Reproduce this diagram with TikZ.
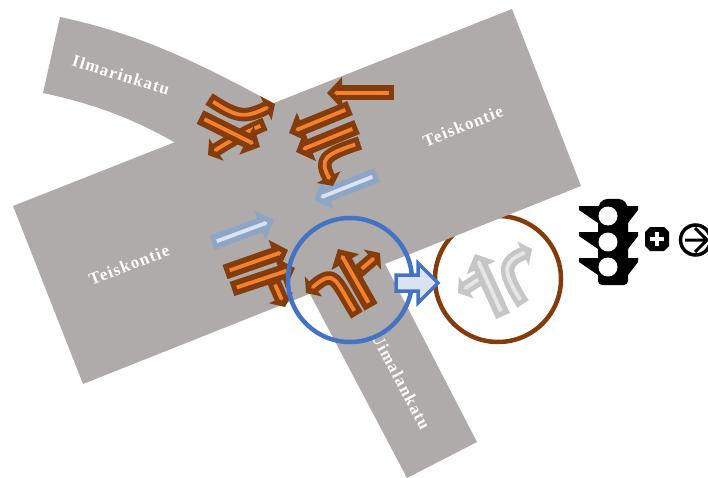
\documentclass[tikz,border=0pt]{standalone}
\usepackage{fontspec}
\setmainfont{Liberation Serif}
\newfontfamily\ruefont[LetterSpace=7]{Liberation Serif}
\usetikzlibrary{arrows.meta}
\definecolor{route}{HTML}{AFABAB}
\definecolor{brun}{HTML}{843C0C}
\definecolor{orange}{HTML}{F5822A}
\definecolor{bleu}{HTML}{4472C4}
\definecolor{bleuclair}{HTML}{DAE3F3}
\definecolor{bleugris}{HTML}{8FA5C6}
\definecolor{grisfonce}{HTML}{C6C6C6}
\definecolor{grisclair}{HTML}{E6E6E6}
\tikzset{
  rue/.style={text=white,font=\ruefont\bfseries\fontsize{17}{17}\selectfont,inner sep=0pt},
  bord/.style={line width=15,line join=round,-{Triangle[length=15,width=31]}},
  petit/.style={line width=13.5,-{Triangle[length=10,width=26]}},
  coeur/.style={line width=3.8,shorten <=5,shorten >=7,-{Triangle[length=3,width=5]}},
}
\newcommand{\fleche}[3]{\draw[bord,#1] #3; \draw[coeur,#2] #3;}
\begin{document}
\begin{tikzpicture}[x=1pt,y=-1pt]
\clip (0,0) rectangle (708,478);

% Cercle brun sous la route
\draw[brun,line width=4.5] (498,279) circle (63);

% Routes
\fill[route] (13,206) -- (512,9) -- (581,186) -- (83,384) -- cycle;
\fill[route] (60,17) .. controls (135,33) and (190,58) .. (273,103) -- (285,125) -- (185,165) -- (174,142)
  .. controls (130,117) and (90,103) .. (43,93) -- cycle;
\fill[route] (310,294) -- (300,270) -- (375,240) -- (385,264) -- (477,442) -- (407,478) -- cycle;

% Noms des rues
\node[rue,rotate=-17] (ilmarinkatu) at (121,75) {Ilmarinkatu};
\node[rue,rotate=22] (teisko1) at (463,126) {Teiskontie};
\node[rue,rotate=21] (teisko2) at (129,265) {Teiskontie};
\node[rue,rotate=-62] (uimalankatu) at (401,381) {Uimalankatu};

% Fleches bleutees
\fleche{bleugris}{bleuclair}{(212,243) -- (274,220)}
\fleche{bleugris}{bleuclair}{(377,175) -- (314,200)}

% Groupe du haut a gauche
\fleche{brun,petit}{orange}{(265,124) .. controls (245,132) and (225,144) .. (208,155)}
\fleche{brun,petit}{orange}{(209,99) .. controls (238,118) and (245,118) .. (275,104)}
\fleche{brun}{orange}{(200,117) -- (260,147)}

% Groupe du haut a droite
\fleche{brun}{orange}{(394,93) -- (327,93)}
\fleche{brun,petit}{orange}{(360,143) .. controls (323,155) and (320,160) .. (333,186)}
\fleche{brun}{orange}{(357,127) -- (296,152)}
\fleche{brun}{orange}{(350,108) -- (289,133)}

% Groupe du bas a gauche
\fleche{brun,petit}{orange}{(273,280) -- (285,307)}
\fleche{brun}{orange}{(232,289) -- (295,268)}
\fleche{brun}{orange}{(225,272) -- (288,250)}

% Groupe du carrefour
\fleche{brun,petit}{orange}{(357,315) .. controls (335,280) and (335,268) .. (306,293)}
\fleche{brun,petit}{orange}{(358,272) -- (380,253)}
\fleche{brun}{orange}{(371,307) -- (338,249)}

% Groupe gris
\fleche{grisfonce,petit}{grisclair}{(485,275) -- (458,293)}
\fleche{grisfonce,petit}{grisclair}{(523,304) .. controls (500,268) and (505,262) .. (532,249)}
\fleche{grisfonce}{grisclair}{(503,316) -- (475,254)}

% Cercle bleu et grosse fleche
\draw[bleu,line width=4.5] (350,280) circle (62);
\draw[bleu,fill=bleuclair,line width=3.5] (396,275) -- (418,275) -- (418,263) -- (438,283)
  -- (418,303) -- (418,291) -- (396,291) -- cycle;

% Feu tricolore
\fill[black,rounded corners=4] (603,199) -- (623,199) -- (628,206) -- (628,285) -- (598,285) -- (598,206) -- cycle;
\foreach \y in {206,232,258} {
  \fill[black] (579,\y) -- (638,\y) -- (638,\y+4) -- (628,\y+17) -- (598,\y+17) -- (579,\y+4) -- cycle;
}
\foreach \y in {216,242,267} {
  \fill[white] (608,\y) circle (9.5);
}

% Signe plus
\fill[black] (650,227) -- (664,227) -- (669,232) -- (669,246) -- (664,251) -- (650,251)
  -- (645,246) -- (645,232) -- cycle;
\draw[white,line width=4] (650,239) -- (664,239) (657,232) -- (657,246);

% Cercle a fleche
\draw[black,line width=3.5] (695.5,240) circle (15);
\draw[black,line width=3] (685,240) -- (707,240) (695,228) -- (707,240) -- (695,252);
\end{tikzpicture}
\end{document}
